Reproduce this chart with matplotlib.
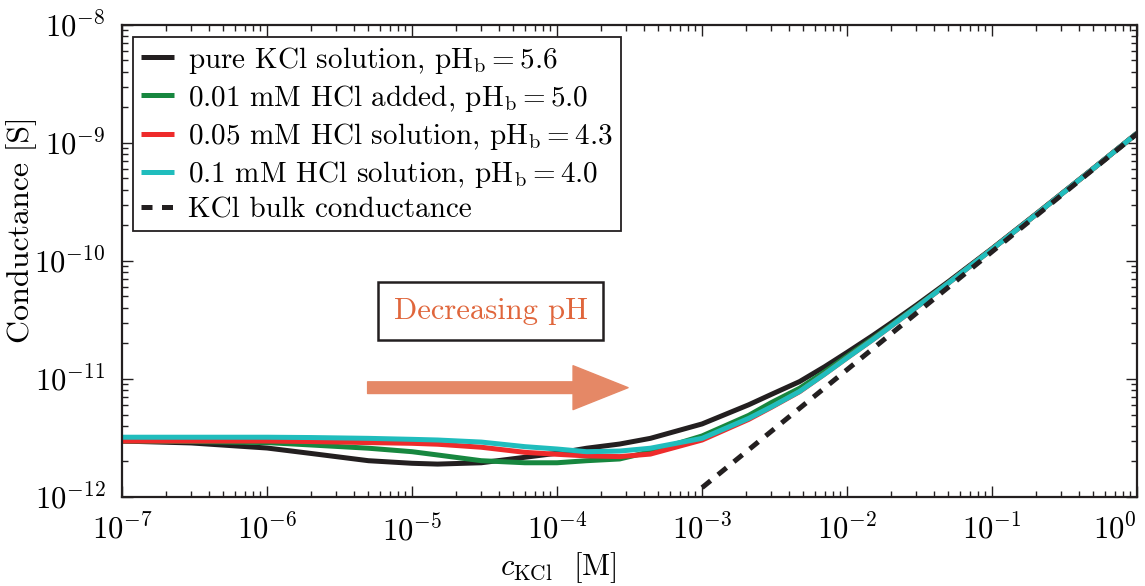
import numpy as np
import matplotlib
matplotlib.use("Agg")
import matplotlib.pyplot as plt

plt.rcParams['font.family'] = 'serif'
plt.rcParams['font.serif'] = ['cmr10']
plt.rcParams['mathtext.fontset'] = 'cm'
plt.rcParams['axes.formatter.use_mathtext'] = True
plt.rcParams['axes.unicode_minus'] = False

# KCl concentration [M]
c_kcl = [1e-7, 3e-7, 1e-6, 2e-6, 5e-6, 1e-5, 1.5e-5, 3e-5, 6e-5, 1e-4,
         1.6e-4, 2.7e-4, 4.4e-4, 1e-3, 2.1e-3, 3e-3, 4.7e-3, 7e-3, 1e-2,
         1.5e-2, 2e-2, 3e-2, 5e-2, 1e-1, 2e-1, 5e-1, 1.0]

# conductance [S]
g_pure = [2.98e-12, 2.87e-12, 2.60e-12, 2.34e-12, 2.03e-12, 1.93e-12, 1.90e-12,
          1.95e-12, 2.17e-12, 2.35e-12, 2.59e-12, 2.81e-12, 3.14e-12, 4.16e-12,
          6.05e-12, 7.40e-12, 9.50e-12, 1.27e-11, 1.68e-11, 2.33e-11, 2.97e-11,
          4.22e-11, 6.68e-11, 1.275e-10, 2.49e-10, 6.10e-10, 1.21e-9]
g_001 = [2.98e-12, 2.95e-12, 2.89e-12, 2.76e-12, 2.59e-12, 2.42e-12, 2.27e-12,
         2.03e-12, 1.95e-12, 1.95e-12, 2.03e-12, 2.10e-12, 2.42e-12, 3.29e-12,
         4.92e-12, 6.30e-12, 8.34e-12, 1.15e-11, 1.56e-11, 2.20e-11, 2.84e-11,
         4.09e-11, 6.54e-11, 1.262e-10, 2.47e-10, 6.08e-10, 1.209e-9]
g_005 = [2.98e-12, 2.98e-12, 2.98e-12, 2.95e-12, 2.89e-12, 2.85e-12, 2.80e-12,
         2.64e-12, 2.39e-12, 2.30e-12, 2.23e-12, 2.20e-12, 2.31e-12, 3.04e-12,
         4.55e-12, 5.75e-12, 7.80e-12, 1.10e-11, 1.51e-11, 2.15e-11, 2.79e-11,
         4.04e-11, 6.50e-11, 1.26e-10, 2.465e-10, 6.075e-10, 1.2085e-9]
g_01 = [3.21e-12, 3.21e-12, 3.21e-12, 3.19e-12, 3.14e-12, 3.08e-12, 3.04e-12,
        2.92e-12, 2.67e-12, 2.55e-12, 2.42e-12, 2.45e-12, 2.59e-12, 3.14e-12,
        4.64e-12, 5.80e-12, 7.84e-12, 1.10e-11, 1.51e-11, 2.15e-11, 2.79e-11,
        4.04e-11, 6.50e-11, 1.26e-10, 2.465e-10, 6.075e-10, 1.2085e-9]

# bulk conductance line
c_bulk = [1e-3, 1.0]
g_bulk = [1.2e-12, 1.2e-9]

labels = [r'pure KCl solution, pH$_{\rm b} = 5.6$',
          r'0.01 mM HCl added, pH$_{\rm b} = 5.0$',
          r'0.05 mM HCl solution, pH$_{\rm b} = 4.3$',
          r'0.1 mM HCl solution, pH$_{\rm b} = 4.0$',
          'KCl bulk conductance']
colors = ['#231F20', '#17873F', '#EE2B2B', '#20BDBD']

fig = plt.figure(figsize=(11.45, 5.86), dpi=100)
ax = fig.add_axes([0.1066, 0.1519, 0.8865, 0.8055])

for g, col, lab in zip([g_pure, g_001, g_005, g_01], colors, labels[:4]):
    ax.plot(c_kcl, g, color=col, lw=3.6, label=lab, solid_capstyle='butt')
ax.plot(c_bulk, g_bulk, color='#231F20', lw=3.6, ls=(0, (2.2, 1.9)),
        label=labels[4])

ax.set_xscale('log')
ax.set_yscale('log')
ax.set_xlim(1e-7, 1)
ax.set_ylim(1e-12, 1e-8)
ax.set_xticks([10.0**k for k in range(-7, 1)])
ax.set_yticks([10.0**k for k in range(-12, -7)])

ax.tick_params(which='both', direction='in', top=True, right=True,
               labelsize=22, width=1.0, color='#231F20')
ax.tick_params(which='major', length=8, pad=12)
ax.tick_params(which='minor', length=4.5)
for s in ax.spines.values():
    s.set_linewidth(1.6)
    s.set_color('#231F20')
xt = ax.get_xticklabels()
xt[-1].set_ha('right')

ax.set_ylabel('Conductance [S]', fontsize=23)
ax.yaxis.set_label_coords(-0.084, 0.567)
ax.set_xlabel(r'$c_{\rm KCl}$  [M]', fontsize=22)
ax.xaxis.set_label_coords(0.43, -0.112)

leg = ax.legend(loc='upper left', bbox_to_anchor=(0.0108, 0.9746),
                borderaxespad=0, fontsize=21, fancybox=False,
                edgecolor='#231F20', framealpha=1, handlelength=1.15,
                handletextpad=0.48, labelspacing=0.245, borderpad=0.26)
leg.get_frame().set_linewidth(1.3)

ax.text(0.363, 0.394, 'Decreasing pH', transform=ax.transAxes,
        ha='center', va='center', fontsize=22, color='#E0663C',
        bbox=dict(boxstyle='square,pad=0.5', fc='white', ec='#231F20', lw=1.8))
ax.annotate('', xy=(0.4985, 0.2316), xytext=(0.2419, 0.2316),
            xycoords='axes fraction', textcoords='axes fraction',
            arrowprops=dict(arrowstyle='simple,head_length=1.98,head_width=1.58,tail_width=0.42',
                            mutation_scale=20, color='#E58866', shrinkA=0, shrinkB=0))

fig.savefig('out.png', dpi=100)
